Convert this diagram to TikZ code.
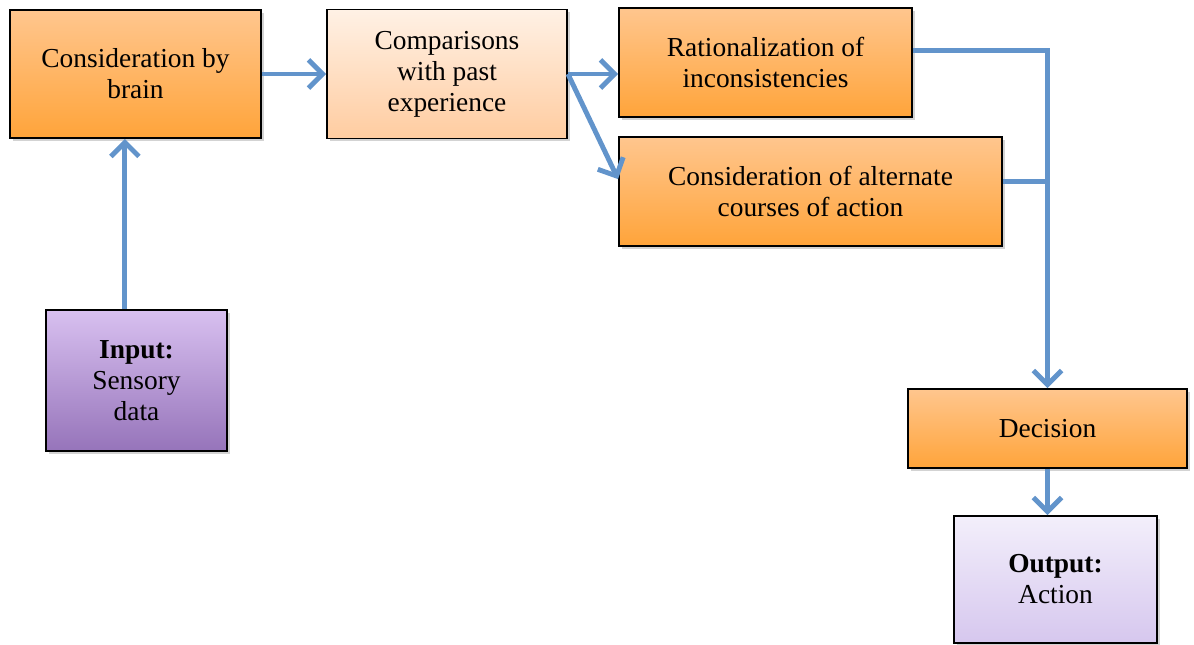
\documentclass[tikz,border=0pt]{standalone}
\usepackage{fontspec}
\setmainfont{Liberation Serif}
\usepackage{xcolor}
\usetikzlibrary{arrows.meta,shadows}

\definecolor{hottop}{RGB}{255,198,142}
\definecolor{hotbot}{RGB}{255,164,58}
\definecolor{paletop}{RGB}{255,241,229}
\definecolor{palebot}{RGB}{255,204,160}
\definecolor{intop}{RGB}{216,192,240}
\definecolor{inbot}{RGB}{150,116,186}
\definecolor{outtop}{RGB}{243,239,251}
\definecolor{outbot}{RGB}{214,199,238}
\definecolor{linkblue}{RGB}{98,148,203}

\begin{document}
\begin{tikzpicture}[x=0.025cm,y=-0.025cm,
  box/.style={draw=black,line width=1.3pt,align=center,inner sep=0pt,
    font=\fontsize{19.5}{22}\selectfont,
    drop shadow={shadow xshift=2pt,shadow yshift=-2pt,opacity=0.35}},
  hot/.style={box,top color=hottop,bottom color=hotbot},
  pale/.style={box,top color=paletop,bottom color=palebot},
  inbox/.style={box,top color=intop,bottom color=inbot},
  outbox/.style={box,top color=outtop,bottom color=outbot},
  link/.style={draw=linkblue,line width=3.5pt,-{Straight Barb[length=10pt,width=20pt]}}]
  \useasboundingbox (0,0) rectangle (1194,644);

  \node[hot,minimum width=6.275cm,minimum height=3.2cm] (brain) at (135.5,74) {Consideration by\\brain};
  \node[pale,minimum width=6cm,minimum height=3.225cm] (comp) at (447,74) {Comparisons\\with past\\experience};
  \node[hot,minimum width=7.325cm,minimum height=2.725cm] (rat) at (765.5,62.5) {Rationalization of\\inconsistencies};
  \node[hot,minimum width=9.575cm,minimum height=2.725cm] (alt) at (810.5,191.5) {Consideration of alternate\\courses of action};
  \node[inbox,minimum width=4.525cm,minimum height=3.525cm] (input) at (136.5,380.5) {\textbf{Input:}\\Sensory\\data};
  \node[hot,minimum width=6.975cm,minimum height=1.975cm] (dec) at (1047.5,428.5) {Decision};
  \node[outbox,minimum width=5.075cm,minimum height=3.175cm] (out) at (1055.5,579.5) {\textbf{Output:}\\Action};

  \draw[link] ([xshift=-0.29cm]input.north) -- ([xshift=-0.29cm]input.north |- brain.south);
  \draw[link] (brain.east) -- (comp.west);
  \draw[link] (comp.east) -- (comp.east -| rat.west);
  \draw[link] (comp.east) -- ([yshift=0.31cm]alt.west);
  \draw[link] ([yshift=0.29cm]rat.east) -| (dec.north);
  \draw[link,-] ([yshift=0.26cm]alt.east) -- ([yshift=0.26cm]alt.east -| dec.north);
  \draw[link] (dec.south) -- (dec.south |- out.north);
\end{tikzpicture}
\end{document}
